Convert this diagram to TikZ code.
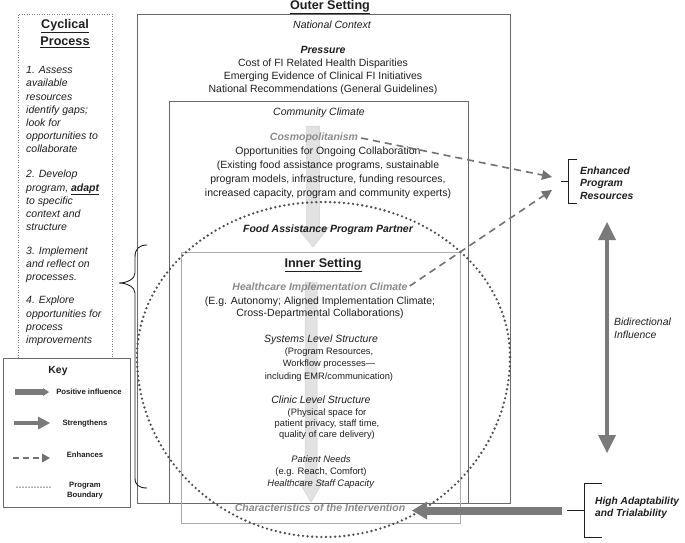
\documentclass[tikz,border=0pt]{standalone}
\usepackage{fontspec}
\setmainfont{Liberation Sans}
\usetikzlibrary{arrows.meta}
\definecolor{txtc}{HTML}{1E1E1E}
\definecolor{gtxt}{HTML}{8A8A8A}
\definecolor{boxc}{HTML}{6A6A6A}
\definecolor{iboxc}{HTML}{ABABAB}
\definecolor{arrl}{HTML}{E2E2E2}
\definecolor{arrlb}{HTML}{D2D2D2}
\definecolor{arrd}{HTML}{7A7A7A}
\definecolor{dashc}{HTML}{727272}
\definecolor{dotc}{HTML}{505050}
\definecolor{cycc}{HTML}{7A7A7A}
\newcommand\fsz[2]{\fontsize{#1}{#2}\selectfont}
\begin{document}
\begin{tikzpicture}[x=1pt,y=-1pt,
  lbl/.style={inner sep=0pt, text=txtc, align=center},
  body/.style={lbl, font=\fsz{10.5}{13.2}},
  bodyi/.style={lbl, font=\itshape\fsz{10.5}{13.2}},
  bodybi/.style={lbl, font=\bfseries\itshape\fsz{10.5}{13.2}},
  graybi/.style={lbl, text=gtxt, font=\bfseries\itshape\fsz{10.5}{13.2}},
  ttl/.style={lbl, font=\bfseries\fsz{12.6}{17}},
  keyt/.style={lbl, font=\bfseries\fsz{7.7}{10}},
  frame/.style={draw=boxc, line width=0.9pt},
  iframe/.style={draw=iboxc, line width=0.9pt},
  lgshape/.style={fill=arrl, draw=arrlb, line width=0.5pt},
  dkarrow/.style={line width=8pt, draw=arrd, -{Triangle[length=15pt,width=18pt,line width=0pt]}},
  biarrow/.style={line width=4pt, draw=arrd, {Triangle[length=18pt,width=18pt,line width=0pt]}-{Triangle[length=18pt,width=18pt,line width=0pt]}},
  dasharrow/.style={line width=1.6pt, draw=dashc, dash pattern=on 7pt off 5pt, -{Triangle[length=10pt,width=10pt,line width=0pt]}},
  bound/.style={draw=dotc, line width=2.6pt, line cap=round, dash pattern=on 0pt off 4.6pt},
  brk/.style={draw=txtc, line width=1pt},
]
\useasboundingbox (0,0) rectangle (685,542);

% ---------- frames ----------
\draw[frame] (137,14) rectangle (510,503);
\draw[frame] (169,101) rectangle (468,503);
\draw[iframe] (181,252) rectangle (460,523);

% ---------- light background arrows ----------
\filldraw[lgshape] (306.5,126) -- (319.5,126) -- (319.5,227) -- (329,227) -- (313,247) -- (297,227) -- (306.5,227) -- cycle;
\filldraw[lgshape] (305,282) -- (317,282) -- (317,480) -- (324,480) -- (311,502) -- (298,480) -- (305,480) -- cycle;

% ---------- program boundary ----------
\draw[bound] (510,357) arc[start angle=0, end angle=-180, x radius=186.5, y radius=155]
             arc[start angle=180, end angle=0, x radius=186.5, y radius=180];

% ---------- cyclical process & key boxes ----------
\draw[draw=cycc, line width=0.7pt, dash pattern=on 1pt off 1.5pt] (18,358) -- (18,14) -- (112,14) -- (112,358);
\draw[frame] (3,358) rectangle (130,507);

% ---------- outer setting text ----------
\node[ttl] (outer) at (330,7) {\underline{Outer Setting}};
\node[bodyi] (natl) at (332,25) {National Context};
\node[body] (press) at (323,70.5) {\textbf{\textit{Pressure}}\\Cost of FI Related Health Disparities\\Emerging Evidence of Clinical FI Initiatives\\National Recommendations (General Guidelines)};

% ---------- community ----------
\node[bodyi] (comm) at (319,113) {Community Climate};
\node[graybi] (cosmo) at (314,138) {Cosmopolitanism};
\node[lbl, font=\fsz{10.5}{13.9}] (opp) at (328,173) {Opportunities for Ongoing Collaboration\\(Existing food assistance programs, sustainable\\program models, infrastructure, funding resources,\\increased capacity, program and community experts)};
\node[bodybi] (fapp) at (328,230) {Food Assistance Program Partner};

% ---------- inner setting ----------
\node[ttl] (inner) at (323,265) {\underline{Inner Setting}};
\node[graybi] (hic) at (320,288) {Healthcare Implementation Climate};
\node[lbl, font=\fsz{10.5}{12.5}] (eg) at (320,308) {(E.g. Autonomy; Aligned Implementation Climate;\\Cross-Departmental Collaborations)};
\node[bodyi] (sys) at (321,340) {Systems Level Structure};
\node[lbl, font=\fsz{9.3}{12.4}] (sysd) at (329,364.5) {(Program Resources,\\Workflow processes—\\including EMR/communication)};
\node[bodyi] (cli) at (321,400) {Clinic Level Structure};
\node[lbl, font=\fsz{9.3}{11.2}] (clid) at (327,424) {(Physical space for\\patient privacy, staff time,\\quality of care delivery)};
\node[lbl, font=\fsz{9.4}{12}] (pat) at (321,472) {\textit{Patient Needs}\\(e.g. Reach, Comfort)\\\textit{Healthcare Staff Capacity}};
\node[graybi] (char) at (320,508) {Characteristics of the Intervention};

% ---------- right side ----------
\node[bodybi, anchor=west, align=left, font=\bfseries\itshape\fsz{10.4}{12.6}] (enh) at (580,183) {Enhanced\\Program\\Resources};
\node[bodyi, anchor=west, align=left, font=\itshape\fsz{10.4}{13}] (bidi) at (614,328.5) {Bidirectional\\Influence};
\node[bodybi, anchor=west, align=left, font=\bfseries\itshape\fsz{10.2}{11.8}] (high) at (595,507.5) {High Adaptability\\and Trialability};

\coordinate (enhT) at (577,159); \coordinate (enhV) at (568,159);
\coordinate (enhB) at (568,203); \coordinate (enhBE) at (577,203);
\coordinate (enhM) at (568,181); \coordinate (enhMo) at (561,181);
\draw[brk] (enhT) -- (enhV) -- (enhB) -- (enhBE);
\draw[brk] (enhMo) -- (enhM);

\coordinate (hiT) at (602,483); \coordinate (hiV) at (584,483);
\coordinate (hiB) at (584,537); \coordinate (hiBE) at (602,537);
\coordinate (hiM) at (584,510); \coordinate (hiMo) at (567,510);
\draw[brk] (hiT) -- (hiV) -- (hiB) -- (hiBE);
\draw[brk] (hiMo) -- (hiM);

% ---------- connectors ----------
\coordinate (tip1) at (552,177);
\coordinate (tip2) at (552,190);
\draw[dasharrow] ([xshift=3pt]cosmo.east) -- (tip1);
\draw[dasharrow] ([xshift=2pt,yshift=2pt]hic.east) -- (tip2);

\coordinate (biT) at (607,222);
\coordinate (biB) at (607,453);
\draw[biarrow] (biB) -- (biT);

\coordinate (hiStart) at (562,510.5);
\coordinate (hiEnd) at (412,510.5);
\draw[dkarrow] (hiStart) -- (hiEnd);

% ---------- brace ----------
\draw[brk, line width=0.9pt] (147,245) .. controls (139,245) and (135,249) .. (135,257) -- (135,273)
  .. controls (135,279) and (127,283) .. (119,283)
  .. controls (127,283) and (135,287) .. (135,293) -- (135,478)
  .. controls (135,485) and (139,488) .. (147,488);

% ---------- cyclical process text ----------
\node[ttl] (cyc) at (65,33.5) {\underline{Cyclical}\\\underline{Process}};
\node[bodyi, anchor=west, align=left] (c1) at (26,109.7) {1. Assess\\available\\resources\\identify gaps;\\look for\\opportunities to\\collaborate};
\node[bodyi, anchor=west, align=left] (c2) at (26,200.5) {2. Develop\\program, \underline{\textbf{adapt}}\\to specific\\context and\\structure};
\node[bodyi, anchor=west, align=left] (c3) at (26,264.5) {3. Implement\\and reflect on\\processes.};
\node[bodyi, anchor=west, align=left] (c4) at (26,321) {4. Explore\\opportunities for\\process\\improvements};

% ---------- key ----------
\node[lbl, font=\bfseries\fsz{10.4}{12}] (key) at (58,371) {Key};
\coordinate (k1a) at (15,392); \coordinate (k1b) at (49,392);
\draw[line width=5.5pt, draw=arrd, -{Triangle[length=6pt,width=8pt,line width=0pt]}] (k1a) -- (k1b);
\node[keyt] (k1) at (89,392) {Positive influence};
\coordinate (k2a) at (14,423); \coordinate (k2b) at (50,423);
\draw[line width=4pt, draw=arrd, -{Triangle[length=12pt,width=13pt,line width=0pt]}] (k2a) -- (k2b);
\node[keyt] (k2) at (85,424) {Strengthens};
\coordinate (k3a) at (13,458); \coordinate (k3b) at (50,458);
\draw[line width=1.6pt, draw=dashc, dash pattern=on 6pt off 4pt, -{Triangle[length=8pt,width=9pt,line width=0pt]}] (k3a) -- (k3b);
\node[keyt] (k3) at (85,455) {Enhances};
\coordinate (k4a) at (17,487); \coordinate (k4b) at (50,487);
\draw[draw=dotc, line width=1.5pt, line cap=round, dash pattern=on 0pt off 3pt] (k4a) -- (k4b);
\node[keyt] (k4) at (85,491) {Program\\Boundary};
\end{tikzpicture}
\end{document}
